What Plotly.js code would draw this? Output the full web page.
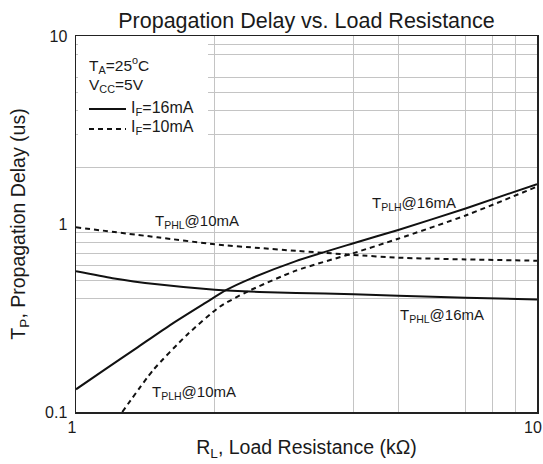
<!DOCTYPE html>
<html>
<head>
<meta charset="utf-8">
<script src="https://cdn.plot.ly/plotly-3.0.1.min.js"></script>
<style>html,body{margin:0;padding:0;background:#fff;}#chart{width:543px;height:464px;}</style>
</head>
<body>
<div id="chart"></div>
<script>
// Load resistance (kOhm) and propagation delay (us)
const rPhl16 = [1, 1.2, 1.5, 2, 2.5, 3, 4, 5, 7, 10];
const tPhl16 = [0.56, 0.515, 0.478, 0.447, 0.435, 0.43, 0.423, 0.415, 0.405, 0.397];

const rPlh16 = [1, 1.15, 1.35, 1.6, 1.9, 2.12, 2.4, 3, 4, 5, 7, 10];
const tPlh16 = [0.132, 0.167, 0.218, 0.29, 0.378, 0.446, 0.514, 0.635, 0.79, 0.93, 1.21, 1.63];

const rPhl10 = [1, 1.5, 2, 2.5, 3, 4, 5, 7, 10];
const tPhl10 = [0.96, 0.85, 0.78, 0.745, 0.72, 0.685, 0.662, 0.648, 0.638];

const rPlh10 = [1.26, 1.47, 1.74, 2.05, 2.35, 3, 4, 5, 7, 10];
const tPlh10 = [0.1, 0.167, 0.257, 0.363, 0.436, 0.565, 0.70, 0.835, 1.11, 1.58];

const xTickVals = [1, 10];
const xTickText = ['1', '10'];
const yTickVals = [0.1, 1, 10];
const yTickText = ['0.1', '1', '10'];
const xGridVals = [2, 4, 5, 7, 8, 9];
const yGridVals = [0.4, 0.5, 0.6, 0.7, 0.8, 0.9, 2, 3, 4, 5, 6, 8, 9];

const FONT = 'Liberation Sans, Arial, sans-serif';
const INK = '#1a1a1a';

const solid = {color: '#111', width: 2, shape: 'spline', smoothing: 0.6};
const dashed = {color: '#111', width: 2, dash: '5px,4px', shape: 'spline', smoothing: 0.6};

const traces = [
  {x: rPlh16, y: tPlh16, mode: 'lines', line: solid, name: 'T_PLH @ 16mA', showlegend: false, hoverinfo: 'skip'},
  {x: rPhl16, y: tPhl16, mode: 'lines', line: solid, name: 'T_PHL @ 16mA', showlegend: false, hoverinfo: 'skip'},
  {x: rPhl10, y: tPhl10, mode: 'lines', line: dashed, name: 'T_PHL @ 10mA', showlegend: false, hoverinfo: 'skip'},
  {x: rPlh10, y: tPlh10, mode: 'lines', line: dashed, name: 'T_PLH @ 10mA', showlegend: false, hoverinfo: 'skip'}
];

const L = 76, R = 537, T = 36, B = 412;
const px = v => (v - L) / (R - L);
const py = v => (B - v) / (B - T);

const ann = (text, x, y, size) => ({text: text, xref: 'paper', yref: 'paper', x: px(x), y: py(y),
  xanchor: 'left', yanchor: 'middle', showarrow: false, font: {family: FONT, size: size, color: INK}});

const layout = {
  width: 543, height: 464,
  margin: {l: L, r: 543 - R, t: T, b: 464 - B},
  paper_bgcolor: '#fff', plot_bgcolor: '#fff',
  font: {family: FONT, color: INK},
  showlegend: false,
  title: {text: 'Propagation Delay vs. Load Resistance', font: {family: FONT, size: 21.5, color: INK},
    x: 0.5, xanchor: 'center', xref: 'paper', y: 1 - 20.5/464, yanchor: 'middle'},
  xaxis: {
    type: 'log', range: [0, 1],
    tickmode: 'array', tickvals: xTickVals, ticktext: xTickText,
    ticks: '', showgrid: false, zeroline: false,
    minor: {tickmode: 'array', tickvals: xGridVals, showgrid: true, gridcolor: '#c4c4c4', gridwidth: 1, ticks: ''},
    showline: true, linecolor: '#222', linewidth: 1.5, mirror: true,
    tickfont: {family: FONT, size: 16, color: INK},
    ticklabelshift: -4,
    ticklabeloverflow: 'allow',
    title: {text: 'R<sub>L</sub>, Load Resistance (kΩ)', font: {family: FONT, size: 19.5, color: INK}, standoff: 5},
    automargin: false, fixedrange: true
  },
  yaxis: {
    type: 'log', range: [-1, 1],
    tickmode: 'array', tickvals: yTickVals, ticktext: yTickText,
    ticks: '', showgrid: false, zeroline: false,
    minor: {tickmode: 'array', tickvals: yGridVals, showgrid: true, gridcolor: '#c4c4c4', gridwidth: 1, ticks: ''},
    showline: true, linecolor: '#222', linewidth: 1.5, mirror: true,
    tickfont: {family: FONT, size: 16, color: INK},
    ticklabelstandoff: 4,
    ticklabeloverflow: 'allow',
    title: {text: 'T<sub>P</sub>, Propagation Delay (us)', font: {family: FONT, size: 19.5, color: INK}, standoff: 14},
    automargin: false, fixedrange: true
  },
  shapes: [
    {type: 'rect', xref: 'x domain', yref: 'y domain', x0: px(78), x1: px(208), y0: py(148), y1: py(38),
     fillcolor: '#fff', line: {width: 0}, layer: 'above'},
    {type: 'line', xref: 'paper', yref: 'paper', x0: px(89), x1: px(126), y0: py(109), y1: py(109),
     line: {color: '#111', width: 2}, layer: 'above'},
    {type: 'line', xref: 'paper', yref: 'paper', x0: px(89), x1: px(126), y0: py(129), y1: py(129),
     line: {color: '#111', width: 2, dash: '5px,4px'}, layer: 'above'}
  ],
  annotations: [
    ann('T<sub>A</sub>=25<sup>o</sup>C', 87, 65, 15.5),
    ann('V<sub>CC</sub>=5V', 87, 85, 15.5),
    ann('I<sub>F</sub>=16mA', 129, 108, 16),
    ann('I<sub>F</sub>=10mA', 129, 128, 16),
    ann('T<sub>PLH</sub>@16mA', 370, 203, 15),
    ann('T<sub>PHL</sub>@10mA', 153, 221, 15),
    ann('T<sub>PHL</sub>@16mA', 398, 315, 15),
    ann('T<sub>PLH</sub>@10mA', 150, 392, 15)
  ]
};

Plotly.newPlot('chart', traces, layout, {staticPlot: true, displayModeBar: false});
</script>
</body>
</html>
